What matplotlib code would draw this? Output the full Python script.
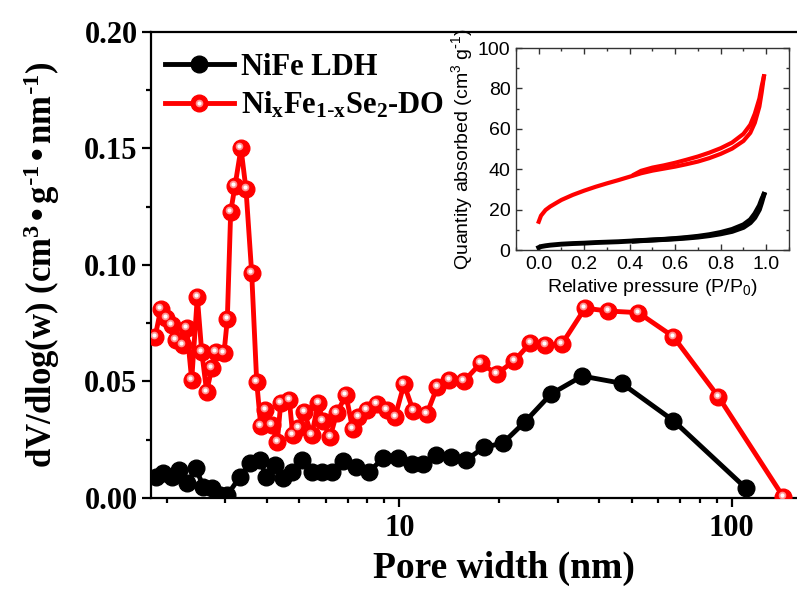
import matplotlib
matplotlib.use("Agg")
import matplotlib.pyplot as plt
from matplotlib.lines import Line2D
from matplotlib.legend_handler import HandlerTuple
from matplotlib.ticker import MultipleLocator, FuncFormatter, NullFormatter
from matplotlib.transforms import offset_copy

plt.rcParams["mathtext.default"] = "regular"

# pore size distribution, NiFe LDH
ldh_width = [1.855, 1.943, 2.068, 2.179, 2.294, 2.447, 2.573, 2.729, 2.888, 3.039,
             3.318, 3.556, 3.812, 3.973, 4.229, 4.478, 4.747, 5.088, 5.452, 5.843,
             6.262, 6.757, 7.409, 8.125, 8.915, 9.93, 10.90, 11.81, 12.90, 14.26,
             15.91, 17.94, 20.51, 23.88, 28.59, 35.49, 46.66, 66.71, 110.3]
ldh_dv = [0.0091, 0.0109, 0.0091, 0.0120, 0.0063, 0.0127, 0.0049, 0.0042, 0.0013, 0.0013,
          0.0091, 0.0149, 0.0163, 0.0091, 0.0142, 0.0084, 0.0113, 0.0163, 0.0113, 0.0113,
          0.0113, 0.0160, 0.0134, 0.0113, 0.0170, 0.0170, 0.0145, 0.0145, 0.0186, 0.0175,
          0.0163, 0.0217, 0.0236, 0.0327, 0.0446, 0.0523, 0.0492, 0.0332, 0.0042]

# pore size distribution, NixFe1-xSe2-DO
se_width = [1.842, 1.916, 1.988, 2.068, 2.130, 2.232, 2.294, 2.375, 2.469, 2.545,
            2.634, 2.729, 2.810, 2.970, 3.039, 3.111, 3.205, 3.341, 3.459, 3.598,
            3.725, 3.830, 3.946, 4.133, 4.297, 4.399, 4.669, 4.780, 4.959, 5.169,
            5.452, 5.707, 5.883, 6.189, 6.482, 6.913, 7.241, 7.527, 7.980, 8.551,
            9.165, 9.707, 10.33, 11.02, 12.09, 13.01, 14.14, 15.65, 17.57, 19.63,
            22.13, 24.73, 27.43, 30.78, 36.18, 42.53, 52.34, 66.71, 91.09, 142.8]
se_dv = [0.0689, 0.0809, 0.0771, 0.0742, 0.0678, 0.0656, 0.0728, 0.0506, 0.0863, 0.0628,
         0.0456, 0.0556, 0.0628, 0.0621, 0.0766, 0.1228, 0.1338, 0.1500, 0.1324, 0.0964,
         0.0499, 0.0309, 0.0377, 0.0313, 0.0242, 0.0406, 0.0420, 0.0270, 0.0300, 0.0370,
         0.0270, 0.0409, 0.0332, 0.0260, 0.0363, 0.0442, 0.0295, 0.0346, 0.0377, 0.0403,
         0.0377, 0.0346, 0.0488, 0.0373, 0.0360, 0.0477, 0.0506, 0.0502, 0.0578, 0.0532,
         0.0588, 0.0663, 0.0656, 0.0659, 0.0814, 0.0802, 0.0795, 0.0692, 0.0435, 0.0005]

# N2 isotherms (inset)
p_ads = [0.0, 0.01, 0.03, 0.05, 0.08, 0.1, 0.15, 0.2, 0.25, 0.3, 0.35, 0.4, 0.45, 0.5,
         0.55, 0.6, 0.65, 0.7, 0.75, 0.8, 0.85, 0.9, 0.93, 0.95, 0.97, 0.98, 0.99]
p_des = [0.99, 0.98, 0.97, 0.95, 0.93, 0.9, 0.85, 0.8, 0.75, 0.7, 0.65, 0.6, 0.55, 0.5,
         0.45, 0.42]
se_ads = [14.0, 17.0, 19.8, 21.5, 23.5, 24.8, 27.3, 29.4, 31.3, 33.0, 34.6, 36.3, 38.0, 39.3,
          40.3, 41.3, 42.5, 43.8, 45.5, 47.6, 50.2, 54.0, 58.0, 63.0, 71.0, 78.0, 86.0]
se_des = [86.0, 81.0, 75.0, 67.5, 62.0, 57.5, 53.2, 50.4, 48.2, 46.3, 44.7, 43.2, 41.9, 40.8,
          39.2, 37.4]
ldh_ads = [1.2, 1.7, 2.1, 2.4, 2.7, 2.9, 3.2, 3.4, 3.7, 3.9, 4.1, 4.4, 4.6, 4.9,
           5.2, 5.5, 5.9, 6.4, 7.1, 8.0, 9.2, 11.2, 13.5, 16.0, 20.0, 23.5, 27.5]
ldh_des = [27.5, 25.0, 22.0, 18.0, 15.0, 12.5, 10.2, 8.7, 7.6, 6.8, 6.2, 5.7, 5.3, 5.0,
           4.7, 4.4]

serif = {"family": "Liberation Serif", "weight": "bold"}
sans = {"family": "Liberation Sans"}
RED = "#ff0000"

fig = plt.figure(figsize=(7.97, 5.93), dpi=100)
# main axes runs past the right edge of the canvas
ax = fig.add_axes([0.1891, 0.1602, 0.8862, 0.7863])

ax.plot(ldh_width, ldh_dv, color="k", lw=3.5, marker="o", ms=12, zorder=3)
ax.plot(se_width, se_dv, color=RED, lw=3.5, marker="o", ms=12, mec=RED, zorder=4)
# glossy highlight on the red spheres
shine = offset_copy(ax.transData, fig=fig, x=-1.5, y=2, units="dots")
ax.plot(se_width, se_dv, ls="none", marker="o", ms=5.5, color="#ff9090", mec="none",
        transform=shine, zorder=5)
ax.plot(se_width, se_dv, ls="none", marker="o", ms=3, color="white", mec="none",
        transform=shine, zorder=6)

ax.set_xscale("log")
ax.set_xlim(1.788, 238)
ax.set_ylim(0, 0.2)
ax.yaxis.set_major_locator(MultipleLocator(0.05))
ax.yaxis.set_minor_locator(MultipleLocator(0.025))
ax.yaxis.set_major_formatter(FuncFormatter(lambda v, p: f"{v:.2f}"))
ax.xaxis.set_major_formatter(FuncFormatter(lambda v, p: f"{v:g}"))
ax.xaxis.set_minor_formatter(NullFormatter())

for s in ax.spines.values():
    s.set_linewidth(1.6)
ax.tick_params(which="major", direction="out", length=6.5, width=1.6, pad=3)
ax.tick_params(which="minor", direction="out", length=3.6, width=1.6)
ax.tick_params(axis="x", which="major", pad=5)
for lab in ax.get_xticklabels() + ax.get_yticklabels():
    lab.set_fontfamily(serif["family"])
    lab.set_fontweight("bold")
    lab.set_fontsize(22)

ax.set_xlabel("Pore width (nm)", fontsize=27, labelpad=6, **serif)
ax.set_ylabel("dV/dlog(w) (cm$^{3}$\u2022g$^{\\text{-}1}$\u2022nm$^{\\text{-}1}$)",
              fontsize=25, labelpad=16, **serif)

h_ldh = Line2D([], [], color="k", lw=3.5, marker="o", ms=12)
h_se = Line2D([], [], color=RED, lw=3.5, marker="o", ms=12, mec=RED)
h_se_glow = Line2D([], [], ls="none", marker="o", ms=5.5, color="#ff9090", mec="none")
h_se_shine = Line2D([], [], ls="none", marker="o", ms=3, color="white", mec="none")
ax.legend([h_ldh, (h_se, h_se_glow, h_se_shine)],
          ["NiFe LDH", r"Ni$_{x}$Fe$_{1\text{-}x}$Se$_{2}$-DO"],
          handler_map={tuple: HandlerTuple(ndivide=1)},
          loc="upper left", bbox_to_anchor=(-0.01, 1.0), frameon=False,
          prop={"family": "Liberation Serif", "weight": "bold", "size": 22},
          handlelength=2.25, handletextpad=0.25, labelspacing=0.25, borderaxespad=0.3)

# inset: N2 adsorption-desorption isotherms
ins = fig.add_axes([0.6474, 0.5784, 0.3425, 0.3406])
ins.plot(p_ads, ldh_ads, color="k", lw=3.5)
ins.plot(p_des, ldh_des, color="k", lw=3.5)
ins.plot(p_ads, se_ads, color=RED, lw=3)
ins.plot(p_des, se_des, color=RED, lw=3)
ins.set_xlim(-0.1, 1.1)
ins.set_ylim(0, 100)
ins.xaxis.set_major_locator(MultipleLocator(0.2))
ins.xaxis.set_minor_locator(MultipleLocator(0.1))
ins.yaxis.set_major_locator(MultipleLocator(20))
ins.yaxis.set_minor_locator(MultipleLocator(10))
ins.xaxis.set_major_formatter(FuncFormatter(lambda v, p: f"{v:.1f}" if v > -0.05 else ""))
for s in ins.spines.values():
    s.set_linewidth(1.0)
    s.set_color("#333333")
ins.tick_params(which="both", direction="in", top=True, right=True, width=1.0,
                color="#333333")
ins.tick_params(which="major", length=4, labelsize=14, pad=4)
ins.tick_params(which="minor", length=2.5)
for lab in ins.get_xticklabels() + ins.get_yticklabels():
    lab.set_fontfamily(sans["family"])
ins.set_xlabel("Relative pressure (P/P$_{0}$)", fontsize=14, labelpad=3, **sans)
ins.set_ylabel(r"Quantity absorbed (cm$^{3}$ g$^{\text{-}1}$)", fontsize=14, labelpad=2,
               **sans)

fig.savefig("out.png", dpi=100)
